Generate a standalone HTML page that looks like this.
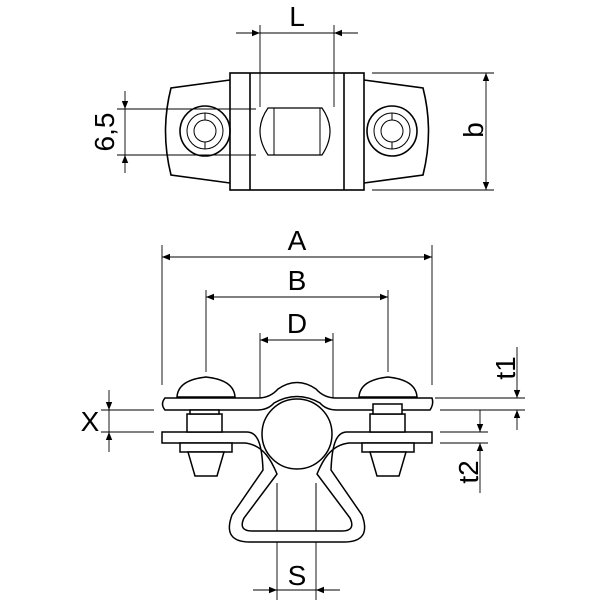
<!DOCTYPE html>
<html><head><style>html,body{margin:0;padding:0;background:#fff}svg{display:block}</style></head><body>
<svg width="600" height="600" viewBox="0 0 600 600" xmlns="http://www.w3.org/2000/svg" font-family="Liberation Sans, sans-serif">
<defs>
<marker id="ar" viewBox="0 0 10 10" refX="10" refY="5" markerWidth="10" markerHeight="8" orient="auto-start-reverse" markerUnits="userSpaceOnUse"><path d="M0,1 L10,5 L0,9 Z" fill="#000"/></marker>
</defs>
<g fill="none" stroke="#000" stroke-width="1.6">
<rect x="230" y="73" width="134" height="117"/>
<line x1="250" y1="73" x2="250" y2="190"/><line x1="344" y1="73" x2="344" y2="190"/>
<path d="M230,80 L171,88 Q160,131 171,175 L230,183"/>
<path d="M364,80 L423,88 Q434,131 423,175 L364,183"/>
<circle cx="205" cy="131" r="25"/><circle cx="205" cy="131" r="18" stroke-width="1"/><circle cx="205" cy="131" r="11" stroke-width="1"/>
<circle cx="392" cy="131" r="25"/><circle cx="392" cy="131" r="18" stroke-width="1"/><circle cx="392" cy="131" r="11" stroke-width="1"/>
<path d="M205,113 v7 M205,142 v7 M392,113 v7 M392,142 v7" stroke-width="1"/>
<path d="M268,108 L322,108 Q338,131 322,155 L268,155 Q252,131 268,108 Z" stroke-width="1.2"/>
<line x1="274" y1="108" x2="274" y2="155" stroke-width="1"/><line x1="320" y1="108" x2="320" y2="155" stroke-width="1"/>
</g>
<g stroke="#000" stroke-width="0.9" fill="none">
<line x1="260" y1="25" x2="260" y2="107"/><line x1="334" y1="25" x2="334" y2="107"/>
<line x1="236" y1="33" x2="260" y2="33" marker-end="url(#ar)"/><line x1="260" y1="33" x2="334" y2="33"/><line x1="358" y1="33" x2="334" y2="33" marker-end="url(#ar)"/>
<line x1="117" y1="109" x2="256" y2="109"/><line x1="117" y1="155" x2="256" y2="155"/>
<line x1="125" y1="91" x2="125" y2="109" marker-end="url(#ar)"/><line x1="125" y1="109" x2="125" y2="155"/><line x1="125" y1="173" x2="125" y2="155" marker-end="url(#ar)"/>
<line x1="372" y1="73" x2="494" y2="73"/><line x1="372" y1="190" x2="494" y2="190"/>
<line x1="486" y1="100" x2="486" y2="73" marker-end="url(#ar)"/><line x1="486" y1="160" x2="486" y2="190" marker-end="url(#ar)"/><line x1="486" y1="100" x2="486" y2="160"/>
<line x1="162" y1="245" x2="162" y2="385"/><line x1="432" y1="245" x2="432" y2="385"/>
<line x1="290" y1="257" x2="162" y2="257" marker-end="url(#ar)"/><line x1="290" y1="257" x2="432" y2="257" marker-end="url(#ar)"/>
<line x1="206" y1="290" x2="206" y2="372"/><line x1="388" y1="290" x2="388" y2="372"/>
<line x1="297" y1="297" x2="206" y2="297" marker-end="url(#ar)"/><line x1="297" y1="297" x2="388" y2="297" marker-end="url(#ar)"/>
<line x1="260" y1="333" x2="260" y2="400"/><line x1="333" y1="333" x2="333" y2="400"/>
<line x1="297" y1="340" x2="260" y2="340" marker-end="url(#ar)"/><line x1="297" y1="340" x2="333" y2="340" marker-end="url(#ar)"/>
<line x1="277" y1="483" x2="277" y2="600"/><line x1="316" y1="483" x2="316" y2="600"/>
<line x1="253" y1="590" x2="277" y2="590" marker-end="url(#ar)"/><line x1="277" y1="590" x2="316" y2="590"/><line x1="340" y1="590" x2="316" y2="590" marker-end="url(#ar)"/>
<line x1="101" y1="410" x2="154" y2="410"/><line x1="101" y1="432" x2="154" y2="432"/>
<line x1="109" y1="390" x2="109" y2="410" marker-end="url(#ar)"/><line x1="109" y1="410" x2="109" y2="432"/><line x1="109" y1="452" x2="109" y2="432" marker-end="url(#ar)"/>
<line x1="435" y1="398" x2="525" y2="398"/><line x1="440" y1="410" x2="525" y2="410"/>
<line x1="517" y1="347" x2="517" y2="398" marker-end="url(#ar)"/><line x1="517" y1="430" x2="517" y2="410" marker-end="url(#ar)"/>
<line x1="440" y1="432" x2="488" y2="432"/><line x1="440" y1="443" x2="488" y2="443"/>
<line x1="480" y1="410" x2="480" y2="432" marker-end="url(#ar)"/><line x1="480" y1="493" x2="480" y2="443" marker-end="url(#ar)"/>
</g>
<g fill="#fff" stroke="#000" stroke-width="1.5">
<path d="M162,432 H247 C258,432 262,445 263,470 L232,515 Q222,542 250,542 H344 Q372,542 362,515 L331,470 C332,445 336,432 347,432 H432 V443 H349 C330,445 322,462 317,474 L350,518 Q356,531 342,531 H252 Q238,531 244,518 L277,474 C272,462 264,445 245,443 H162 Z"/>
<circle cx="297" cy="434" r="35"/>
<path d="M165,398 H258 Q270,398 278,389 Q297,376 316,389 Q324,398 336,398 H432 Q434,404 430,410 H337 Q326,410 320,403 Q297,390 274,403 Q268,410 257,410 H165 Q160,404 165,398 Z"/>
<path d="M177,397 Q178,380 206,377 Q234,380 235,397 Z"/>
<rect x="187" y="414" width="35" height="18"/><rect x="190" y="410" width="29" height="4"/>
<rect x="180" y="443" width="52" height="9"/>
<path d="M188,452 L224,452 L217,476 L195,476 Z"/>
<path d="M359,397 Q360,380 388,377 Q416,380 417,397 Z"/>
<rect x="370" y="414" width="35" height="18"/><rect x="373" y="404" width="29" height="10"/>
<rect x="362" y="443" width="52" height="9"/>
<path d="M370,452 L406,452 L399,476 L377,476 Z"/>
</g>
<g stroke="#000" stroke-width="0.9">
<line x1="277" y1="483" x2="277" y2="531"/><line x1="316" y1="483" x2="316" y2="531"/>
</g>
<g fill="#000" font-size="28">
<text x="297" y="26" text-anchor="middle">L</text>
<text x="297" y="250" text-anchor="middle">A</text>
<text x="297" y="290" text-anchor="middle">B</text>
<text x="297" y="333" text-anchor="middle">D</text>
<text x="297" y="585" text-anchor="middle">S</text>
<text x="90" y="431" text-anchor="middle">X</text>
<text transform="translate(114,132) rotate(-90)" text-anchor="middle">6,5</text>
<text transform="translate(483,130) rotate(-90)" text-anchor="middle">b</text>
<text transform="translate(515,368) rotate(-90)" text-anchor="middle">t1</text>
<text transform="translate(478,472) rotate(-90)" text-anchor="middle">t2</text>
</g>
</svg>
</body></html>
